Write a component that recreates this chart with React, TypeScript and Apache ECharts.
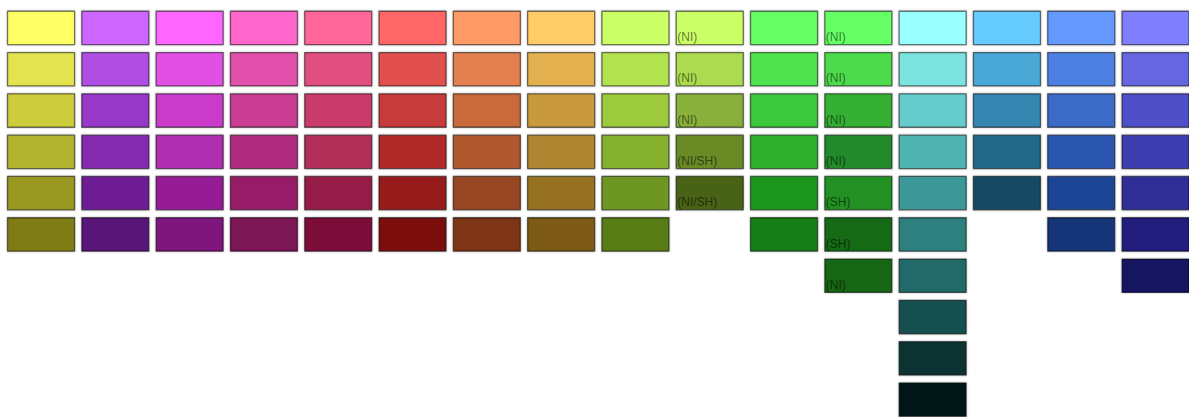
import React, { useEffect, useRef } from "react";
import * as echarts from "echarts";

const columns = [
  "Yellow", "Purple", "Magenta", "Pink", "Rose", "Red", "Orange", "Gold",
  "Lime", "Olive", "Green", "Forest", "Teal", "Sky", "Blue", "Indigo",
];

const rows = ["1", "2", "3", "4", "5", "6", "7", "8", "9", "10"];

const yellowShades = ["#ffff66", "#e3e34f", "#cccc3d", "#b2b32f", "#999922", "#7f7c16"];
const purpleShades = ["#cc66ff", "#b04ee3", "#9739c8", "#832aaf", "#6d1c93", "#581278"];
const magentaShades = ["#ff66ff", "#e150e3", "#c93ac8", "#b02db0", "#961c96", "#7e137e"];
const pinkShades = ["#ff66cc", "#e14fab", "#c93c93", "#b02c7f", "#961f67", "#7d1255"];
const roseShades = ["#ff6699", "#e04f80", "#c83a6a", "#b02d58", "#961c46", "#7c1138"];
const redShades = ["#ff6666", "#e15050", "#c83b3b", "#b02a2a", "#961c1c", "#7b1111"];
const orangeShades = ["#ff9966", "#e2804f", "#c96b3c", "#b0582d", "#964620", "#7d3514"];
const goldShades = ["#ffcc66", "#e3b04f", "#c99a3c", "#b08530", "#967120", "#7d5a13"];
const limeShades = ["#ccff66", "#b2e350", "#9dcb3d", "#85b12f", "#6e9620", "#597d15"];
const oliveShades = ["#ccff66", "#addb4f", "#89b03a", "#6b8a26", "#4a6318"];
const greenShades = ["#66ff66", "#4fe34f", "#3dc93d", "#2eb02e", "#1f961f", "#147e14"];
const forestShades = ["#66ff66", "#4ddb4d", "#35b035", "#248a2a", "#229022", "#166b18", "#176617"];
const tealShades = ["#99ffff", "#7de3e0", "#66cccb", "#4fb3b2", "#3d9999", "#2d807f", "#216b69", "#144f4f", "#0b3333", "#051919"];
const skyShades = ["#66ccff", "#49a8d6", "#3586b0", "#206788", "#134a63"];
const blueShades = ["#6699ff", "#4d80e0", "#3b6ac7", "#2c57af", "#1f4596", "#133578"];
const indigoShades = ["#7f7fff", "#6666e0", "#4f4fc7", "#3d3db0", "#2d2d96", "#201f7d", "#131360"];

const oliveLabels = ["(NI)", "(NI)", "(NI)", "(NI/SH)", "(NI/SH)"];
const forestLabels = ["(NI)", "(NI)", "(NI)", "(NI)", "(SH)", "(SH)", "(NI)"];

const columnShades = [
  yellowShades, purpleShades, magentaShades, pinkShades, roseShades, redShades,
  orangeShades, goldShades, limeShades, oliveShades, greenShades, forestShades,
  tealShades, skyShades, blueShades, indigoShades,
];
const columnLabels: Record<number, string[]> = { 9: oliveLabels, 11: forestLabels };

export default function App() {
  const ref = useRef<HTMLDivElement>(null);
  useEffect(() => {
    if (!ref.current) return;
    const chart = echarts.init(ref.current, undefined, { renderer: "svg" });
    const data: any[] = [];
    columnShades.forEach((shades, ci) => {
      shades.forEach((color, ri) => {
        const lab = columnLabels[ci] ? columnLabels[ci][ri] || "" : "";
        data.push({ value: [ci, ri], color, lab });
      });
    });
    chart.setOption({
      animation: false,
      grid: { left: 3.9, top: 7.3, width: 1188.8, height: 413 },
      xAxis: { type: "category", data: columns, show: false },
      yAxis: { type: "category", data: rows, inverse: true, show: false },
      series: [
        {
          type: "custom",
          data,
          clip: false,
          renderItem: (params: any, api: any) => {
            const item = data[params.dataIndex];
            const c = api.coord([api.value(0), api.value(1)]);
            const s = api.size([1, 1]);
            const w = s[0] * 0.902;
            const h = s[1] * 0.809;
            const x0 = c[0] - w / 2;
            const y0 = c[1] - h / 2;
            const children: any[] = [
              {
                type: "rect",
                shape: { x: x0, y: y0, width: w, height: h },
                style: {
                  fill: item.color,
                  stroke: "rgba(0,0,0,0.5)",
                  lineWidth: 1.3,
                  shadowBlur: 2,
                  shadowColor: "rgba(0,0,0,0.35)",
                },
              },
            ];
            if (item.lab) {
              children.push({
                type: "text",
                style: {
                  text: item.lab,
                  x: x0 + 1,
                  y: y0 + h - 1.5,
                  align: "left",
                  verticalAlign: "bottom",
                  fill: "rgba(0,0,0,0.55)",
                  fontSize: 12,
                  fontFamily: "Liberation Sans, Arial, sans-serif",
                },
              });
            }
            return { type: "group", children };
          },
        },
      ],
    });
    return () => chart.dispose();
  }, []);
  return (
    <div
      ref={ref}
      style={{ position: "fixed", left: 0, top: 0, width: 1200, height: 430, background: "#fff" }}
    />
  );
}
